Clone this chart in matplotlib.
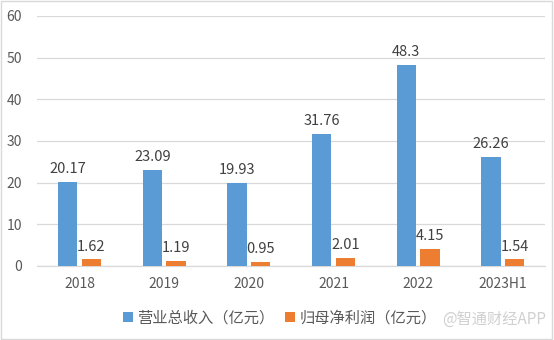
import numpy as np
import matplotlib.pyplot as plt

plt.rcParams['font.family'] = ['Noto Sans CJK SC', 'DejaVu Sans']

categories = ['2018', '2019', '2020', '2021', '2022', '2023H1']
revenue = [20.17, 23.09, 19.93, 31.76, 48.3, 26.26]
profit = [1.62, 1.19, 0.95, 2.01, 4.15, 1.54]
revLabels = ['20.17', '23.09', '19.93', '31.76', '48.3', '26.26']
profLabels = ['1.62', '1.19', '0.95', '2.01', '4.15', '1.54']

blue = '#5B9BD5'
orange = '#ED7D31'
textColor = '#595959'
gridColor = '#D9D9D9'

fig = plt.figure(figsize=(5.54, 3.40), dpi=100)
ax = fig.add_axes([0.067, 0.218, 0.917, 0.735])

xs = np.arange(len(categories))
w = 0.23
off = 0.14
b1 = ax.bar(xs - off, revenue, w, color=blue, label='营业总收入（亿元）', zorder=3)
b2 = ax.bar(xs + off, profit, w, color=orange, label='归母净利润（亿元）', zorder=3)

for rect, lab in zip(b1, revLabels):
    ax.annotate(lab, (rect.get_x() + rect.get_width() / 2, rect.get_height()),
                xytext=(0, 4), textcoords='offset points', ha='center', va='bottom',
                fontsize=10.5, color='#404040')
for rect, lab in zip(b2, profLabels):
    ax.annotate(lab, (rect.get_x() + rect.get_width() / 2, rect.get_height()),
                xytext=(0, 4), textcoords='offset points', ha='center', va='bottom',
                fontsize=10.5, color='#404040')

ax.set_xlim(-0.5, len(categories) - 0.5)
ax.set_ylim(0, 60)
ax.set_yticks(range(0, 61, 10))
ax.set_xticks(xs)
ax.set_xticklabels(categories)
ax.tick_params(axis='both', length=0, labelsize=10, colors=textColor)
ax.tick_params(axis='x', pad=8)
ax.tick_params(axis='y', pad=11)
ax.grid(axis='y', color=gridColor, linewidth=0.9, zorder=0)
for s in ['top', 'right', 'left']:
    ax.spines[s].set_visible(False)
ax.spines['bottom'].set_color(gridColor)
ax.spines['bottom'].set_linewidth(0.9)

fig.legend(handles=[b1, b2], loc='center', bbox_to_anchor=(0.505, 0.065), ncol=2,
           frameon=False, fontsize=11, handlelength=0.65, handleheight=0.65,
           handletextpad=0.3, columnspacing=0.7, labelcolor=textColor)

fig.text(0.985, 0.06, '@智通财经APP', ha='right', va='center', fontsize=11,
         color='#D0D0D0')

border = plt.Rectangle((0.002, 0.003), 0.995, 0.993, transform=fig.transFigure,
                       fill=False, edgecolor='#D9D9D9', linewidth=1)
fig.patches.append(border)

fig.savefig('out.png', dpi=100)
